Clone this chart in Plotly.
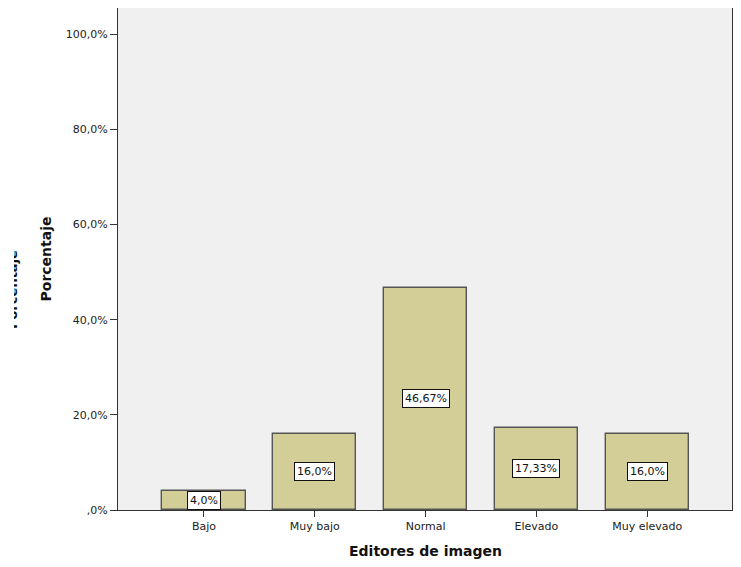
import plotly.graph_objects as go

categories = ["Bajo", "Muy bajo", "Normal", "Elevado", "Muy elevado"]
values = [4.0, 16.0, 46.67, 17.33, 16.0]
value_labels = ["4,0%", "16,0%", "46,67%", "17,33%", "16,0%"]
y_tick_vals = [0, 20, 40, 60, 80, 100]
y_tick_text = [",0%", "20,0%", "40,0%", "60,0%", "80,0%", "100,0%"]

# page body has an 8px margin, so figure coords = screen coords - 8
OFF = 8
W, H = 741 - OFF, 567 - OFF
L, R, T, B = 118 - OFF, 9, 8 - OFF, 57

fig = go.Figure()
fig.add_trace(go.Bar(
    x=categories, y=values, width=0.75,
    marker=dict(color="#D3CE97", line=dict(color="#555555", width=1.4)),
    hoverinfo="skip",
))

annotations = []
for c, v, t in zip(categories, values, value_labels):
    annotations.append(dict(
        x=c, y=v / 2, xref="x", yref="y", text=t, showarrow=False,
        font=dict(family="DejaVu Sans", size=11, color="#111"),
        bgcolor="white", bordercolor="#111", borderwidth=1, borderpad=2,
    ))

# axis titles
annotations.append(dict(
    x=0, y=0.5, xref="paper", yref="paper", xanchor="center", yanchor="middle",
    xshift=37.5 - L, text="<b>Porcentaje</b>", textangle=-90, showarrow=False,
    font=dict(family="DejaVu Sans", size=14, color="#111"),
))
annotations.append(dict(
    x=0.5, y=0, xref="paper", yref="paper", xanchor="center", yanchor="middle",
    yshift=-(551 - OFF - (H - B)), text="<b>Editores de imagen</b>", showarrow=False,
    font=dict(family="DejaVu Sans", size=14, color="#111"),
))

# ghost (partially hidden) title, then a white cover on top of its left part
ghost_y = 290 - OFF
annotations.append(dict(
    x=0, y=0, xref="paper", yref="paper", xanchor="center", yanchor="middle",
    xshift=4 - L, yshift=(H - B) - ghost_y, text="<b>Porcentaje</b>", textangle=-90,
    showarrow=False, font=dict(family="DejaVu Sans", size=13, color="#111"),
))
annotations.append(dict(
    x=0, y=0, xref="paper", yref="paper", xanchor="left", yanchor="middle",
    xshift=-L - 10, yshift=(H - B) - ghost_y, text=" ", showarrow=False,
    width=16, height=110, bgcolor="white", borderpad=0, borderwidth=0,
))

fig.update_layout(
    width=W, height=H,
    margin=dict(l=L, r=R, t=T, b=B, pad=0),
    paper_bgcolor="white", plot_bgcolor="#F0F0F0",
    showlegend=False, bargap=0,
    annotations=annotations,
    font=dict(family="DejaVu Sans", size=11, color="#222"),
)
fig.update_xaxes(
    type="category", range=[-0.776, 4.765],
    showline=True, linecolor="#333", linewidth=1.3, mirror=True,
    ticks="outside", ticklen=6, tickcolor="#333", tickwidth=1.3,
    showgrid=False, zeroline=False,
    tickfont=dict(family="DejaVu Sans", size=11, color="#222"),
)
fig.update_yaxes(
    range=[0, 105.5], tickvals=y_tick_vals, ticktext=y_tick_text,
    showline=True, linecolor="#333", linewidth=1.3, mirror=True,
    ticks="outside", ticklen=7, tickcolor="#333", tickwidth=1.3,
    showgrid=False, zeroline=False,
    tickfont=dict(family="DejaVu Sans", size=11, color="#222"),
)

fig.write_html("out.html")
